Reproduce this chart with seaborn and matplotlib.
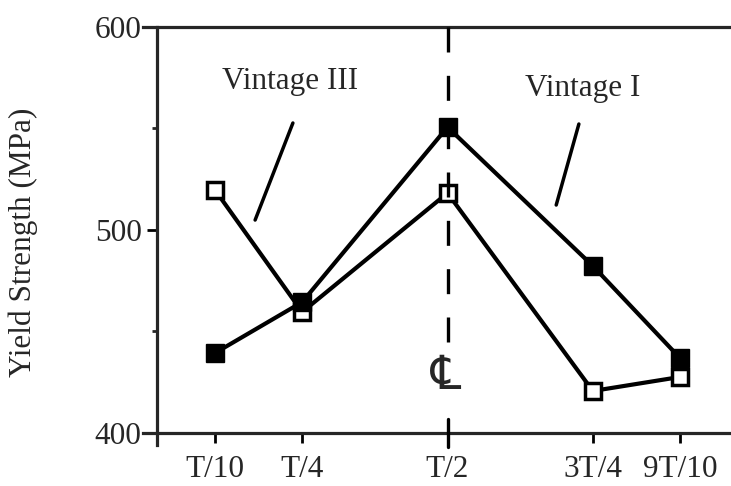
import seaborn as sns
import matplotlib.pyplot as plt
from matplotlib.ticker import MultipleLocator

# positions through the thickness (fraction of T)
positions = [0.1, 0.25, 0.5, 0.75, 0.9]
tick_labels = ['T/10', 'T/4', 'T/2', '3T/4', '9T/10']

# yield strength, MPa
vintage_i = [439.4, 464.5, 550.7, 482.3, 436.9]     # filled squares
vintage_iii = [519.7, 459.6, 518.2, 420.7, 427.6]   # open squares

centerline = 0.5

sns.set_style('ticks')
plt.rcParams['font.family'] = ['Liberation Serif', 'DejaVu Serif']

fig = plt.figure(figsize=(7.31, 4.86), dpi=100)
ax = fig.add_axes([0.1956, 0.0844, 0.8044, 0.8601])

sns.lineplot(x=positions, y=vintage_iii, color='black', lw=3, marker='s',
             markersize=12, markerfacecolor='white', markeredgecolor='black',
             markeredgewidth=2.5, ax=ax, zorder=3)

# centre line, broken where the CL symbol sits
ax.plot([centerline, centerline], [600, 444.3], color='black', lw=2.4,
        linestyle=(0, (7.5, 7)), zorder=4, clip_on=False)
ax.plot([centerline, centerline], [406.9, 393.0], color='black', lw=2.4,
        zorder=4, clip_on=False)
ax.text(0.4985, 428.0, '\u2104', fontsize=34, ha='center', va='center',
        family=['DejaVu Serif', 'DejaVu Sans'])

sns.lineplot(x=positions, y=vintage_i, color='black', lw=3, marker='s',
             markersize=13.5, markerfacecolor='black', markeredgecolor='black',
             markeredgewidth=1, ax=ax, zorder=5)

# labels with leader lines
ax.text(0.229, 572.9, 'Vintage III', fontsize=22.5, ha='center', va='center')
ax.annotate('', xy=(0.169, 504.9), xytext=(0.234, 552.7),
            arrowprops=dict(arrowstyle='-', lw=2.5, color='black',
                            shrinkA=0, shrinkB=0))
ax.text(0.733, 569.5, 'Vintage I', fontsize=22.5, ha='center', va='center')
ax.annotate('', xy=(0.687, 512.3), xytext=(0.726, 552.2),
            arrowprops=dict(arrowstyle='-', lw=2.5, color='black',
                            shrinkA=0, shrinkB=0))

ax.set_xlim(-0.0239, 0.9877)
ax.set_ylim(394.1, 600)
ax.set_xticks(positions)
ax.set_xticklabels(tick_labels)
ax.set_yticks([400, 500, 600])
ax.yaxis.set_minor_locator(MultipleLocator(50))

ax.spines['right'].set_visible(False)
ax.spines['left'].set_position(('data', 0))
ax.spines['bottom'].set_position(('data', 400))
for s in ['left', 'bottom', 'top']:
    ax.spines[s].set_linewidth(2.3)

ax.tick_params(axis='both', which='major', direction='out', length=7,
               width=2, labelsize=22.5, color='black')
ax.tick_params(axis='x', pad=9)
ax.tick_params(axis='y', pad=4)
ax.tick_params(axis='y', which='minor', direction='out', length=3.5, width=2)
ax.tick_params(top=False, right=False)

ax.set_ylabel('')
fig.text(0.0315, 0.502, 'Yield Strength (MPa)', rotation=90, fontsize=22.5,
         ha='center', va='center')

plt.savefig('out.png', dpi=100)
plt.close()
